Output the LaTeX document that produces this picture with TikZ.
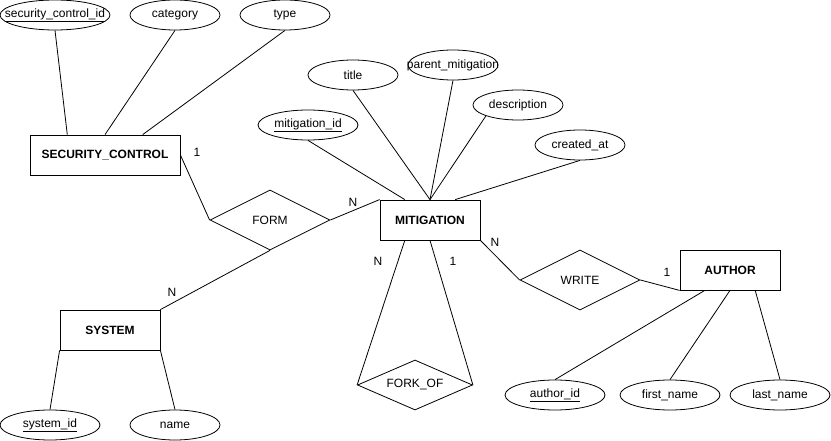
\documentclass[tikz,border=0pt]{standalone}
\usepackage{fontspec}
\setmainfont{Liberation Sans}
\usetikzlibrary{shapes.geometric,calc}

\begin{document}
\begin{tikzpicture}[x=1pt,y=-1pt,line width=.8pt,
  every node/.style={font=\fontsize{12}{14}\selectfont},
  entity/.style={draw,rectangle,minimum width=100pt,minimum height=40pt,inner sep=0pt,font=\fontsize{12}{14}\selectfont\bfseries},
  rel/.style={draw,diamond,aspect=2,minimum width=120pt,minimum height=60pt,inner sep=0pt},
  attr/.style={draw,ellipse,minimum width=90pt,minimum height=30pt,inner sep=0pt,
    execute at begin node={\hbox to 0pt\bgroup\hss},execute at end node={\hss\egroup}}]
\useasboundingbox (0,0) rectangle (831,441);

% entities
\node[entity,minimum width=150pt] (sc) at (105,155) {SECURITY\_CONTROL};
\node[entity] (mit) at (430,220) {MITIGATION};
\node[entity] (sys) at (110,330) {SYSTEM};
\node[entity] (auth) at (730,270) {AUTHOR};

% relations
\node[rel] (form) at (270,220) {FORM};
\node[rel] (write) at (580,280) {WRITE};
\node[rel,aspect=2.3,minimum width=115pt,minimum height=50pt] (fork) at (415,385) {FORK\_OF};

% attributes
\node[attr,minimum width=110pt] (scid) at (55,15) {\underline{security\_control\_id}};
\node[attr] (cat) at (175,15) {category};
\node[attr] (type) at (285,15) {type};
\node[attr] (title) at (353,75) {title};
\node[attr] (parent) at (453,65) {parent\_mitigation};
\node[attr] (desc) at (518,105) {description};
\node[attr] (created) at (580,145) {created\_at};
\node[attr,minimum width=100pt] (mitid) at (308,125) {\underline{mitigation\_id}};
\node[attr,minimum width=100pt] (sysid) at (50,425) {\underline{system\_id}};
\node[attr] (sysname) at (175,425) {name};
\node[attr,minimum width=100pt] (authid) at (555,395) {\underline{author\_id}};
\node[attr,minimum width=100pt] (first) at (670,395) {first\_name};
\node[attr,minimum width=100pt] (last) at (780,395) {last\_name};

% attribute lines
\draw (scid.south) -- ($(sc.north west)!.25!(sc.north east)$);
\draw (cat.south) -- (sc.north);
\draw (type.south) -- ($(sc.north west)!.75!(sc.north east)$);
\draw (mitid.south) -- ($(mit.north west)!.25!(mit.north east)$);
\draw (title.south) -- (mit.north);
\draw (parent.south) -- (mit.north);
\draw (desc.south west) -- (mit.north);
\draw (created.south) -- ($(mit.north west)!.75!(mit.north east)$);
\draw (sys.south west) -- (sysid.north);
\draw (sys.south east) -- (sysname.north);
\draw ($(auth.south west)!.25!(auth.south east)$) -- (authid.north);
\draw (auth.south) -- (first.north);
\draw ($(auth.south west)!.75!(auth.south east)$) -- (last.north);

% relation lines
\draw (sc.east) -- (form.west);
\draw (form.east) -- (mit.north west);
\draw (form.south) -- (sys.north east);
\draw ($(mit.south west)!.25!(mit.south east)$) -- (fork.west);
\draw (mit.south) -- (fork.east);
\draw (mit.south east) -- (write.west);
\draw (write.east) -- (auth.south west);

% cardinalities
\node (c1) at (197,152) {1};
\node (c2) at (353,202) {N};
\node (c3) at (172,292) {N};
\node (c4) at (378,261) {N};
\node (c5) at (453,261) {1};
\node (c6) at (495,242) {N};
\node (c7) at (667,272) {1};
\end{tikzpicture}
\end{document}
